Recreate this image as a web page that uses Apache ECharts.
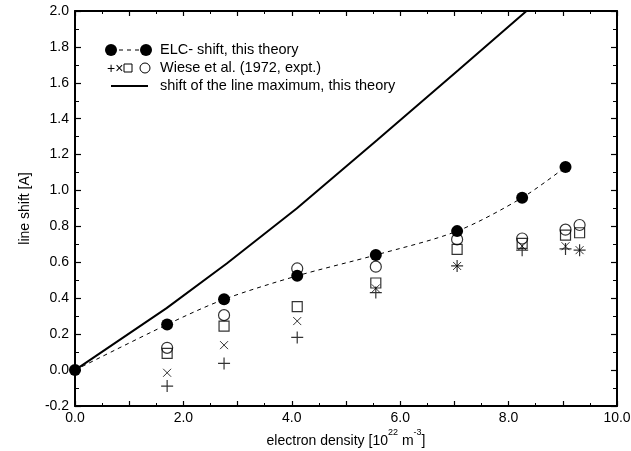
<!DOCTYPE html>
<html>
<head>
<meta charset="utf-8">
<script src="https://cdn.jsdelivr.net/npm/echarts@6/dist/echarts.min.js"></script>
<style>html,body{margin:0;padding:0;background:#fff}#c{width:631px;height:451px}</style>
</head>
<body>
<div id="c"></div>
<script>
// ELC shift, this theory
const elcX = [0, 1.7, 2.75, 4.1, 5.55, 7.05, 8.25, 9.05];
const elcY = [0, 0.254, 0.394, 0.525, 0.641, 0.774, 0.96, 1.131];
// shift of the line maximum, this theory
const maxX = [0, 1.69, 2.8, 4.09, 5.57, 7.07, 8.33, 9.05];
const maxY = [0, 0.345, 0.594, 0.90, 1.28, 1.67, 2.0, 2.2];
// Wiese et al. (1972, expt.)
const expX = [1.7, 2.75, 4.1, 5.55, 7.05, 8.25, 9.05, 9.31];
const circleY = [0.124, 0.306, 0.566, 0.576, 0.728, 0.733, 0.782, 0.808];
const squareY = [0.093, 0.245, 0.353, 0.485, 0.672, 0.706, 0.752, 0.765];
const crossY = [-0.015, 0.139, 0.273, 0.455, 0.58, 0.69, 0.69, 0.668];
const plusY = [-0.089, 0.037, 0.182, 0.432, 0.58, 0.668, 0.675, 0.668];
// axis ticks
const yTicks = ['-0.2','0.0','0.2','0.4','0.6','0.8','1.0','1.2','1.4','1.6','1.8','2.0'];
const xTicks = ['0.0','2.0','4.0','6.0','8.0','10.0'];

const zip = (xs, ys) => xs.map((x, i) => [x, ys[i]]);
const FONT = 'Liberation Sans';
const PLUS = 'path://M5,0L5,10M0,5L10,5';
const CROSS = 'path://M0,0L10,10M10,0L0,10';

const chart = echarts.init(document.getElementById('c'));
const baseAxis = {
  axisLine: {show: true, onZero: false, lineStyle: {color: '#000', width: 2}},
  splitLine: {show: false}
};
function scat(ys, symbol, size, bw) {
  return {
    type: 'scatter', data: zip(expX, ys), symbol: symbol, symbolSize: size,
    itemStyle: {color: 'rgba(0,0,0,0)', borderColor: '#000', borderWidth: bw},
    z: 3, silent: true
  };
}
function legendText(t, y) {
  return {type: 'text', style: {x: 160, y: y, text: t, verticalAlign: 'middle',
    font: '14.5px "' + FONT + '"', fill: '#000'}};
}
chart.setOption({
  animation: false,
  backgroundColor: '#fff',
  grid: {left: 75, right: 14, top: 11, bottom: 45, containLabel: false, outerBoundsMode: 'none'},
  xAxis: [
    Object.assign({}, baseAxis, {
      type: 'value', min: 0, max: 10, interval: 1, position: 'bottom',
      name: '{a|electron density [10}{s|22}{a| m}{s|-3}{a|]}',
      nameLocation: 'middle', nameGap: 22, nameMoveOverlap: false,
      nameTextStyle: {rich: {
        a: {fontFamily: FONT, fontSize: 14, color: '#000', lineHeight: 20, verticalAlign: 'bottom'},
        s: {fontFamily: FONT, fontSize: 9, color: '#000', lineHeight: 20, verticalAlign: 'top'}
      }},
      axisTick: {inside: true, length: 5, lineStyle: {color: '#000', width: 1.2}},
      minorTick: {show: true, splitNumber: 2, length: 3, lineStyle: {color: '#000', width: 1}},
      axisLabel: {
        color: '#000', fontFamily: FONT, fontSize: 14, margin: 5,
        formatter: v => { const i = xTicks.indexOf(v.toFixed(1)); return i >= 0 ? xTicks[i] : ''; }
      }
    }),
    Object.assign({}, baseAxis, {
      type: 'value', min: 0, max: 10, interval: 1, position: 'top',
      axisTick: {inside: true, length: 5, lineStyle: {color: '#000', width: 1.2}},
      minorTick: {show: true, splitNumber: 2, length: 3, lineStyle: {color: '#000', width: 1}},
      axisLabel: {show: false}
    })
  ],
  yAxis: [
    Object.assign({}, baseAxis, {
      type: 'value', min: -0.2, max: 2.0, interval: 0.2, position: 'left',
      name: 'line shift [A]', nameLocation: 'middle', nameGap: 43,
      nameTextStyle: {fontFamily: FONT, fontSize: 14, color: '#000'},
      axisTick: {inside: true, length: 6, lineStyle: {color: '#000', width: 1.2}},
      minorTick: {show: true, splitNumber: 2, length: 4, lineStyle: {color: '#000', width: 1}},
      axisLabel: {
        color: '#000', fontFamily: FONT, fontSize: 14, margin: 6,
        formatter: v => { const s = v.toFixed(1); return yTicks.indexOf(s) >= 0 ? s : ''; }
      }
    }),
    Object.assign({}, baseAxis, {
      type: 'value', min: -0.2, max: 2.0, interval: 0.2, position: 'right',
      axisTick: {inside: true, length: 6, lineStyle: {color: '#000', width: 1.2}},
      minorTick: {show: true, splitNumber: 2, length: 4, lineStyle: {color: '#000', width: 1}},
      axisLabel: {show: false}
    })
  ],
  series: [
    {type: 'line', data: zip(maxX, maxY), showSymbol: false, symbol: 'none',
     lineStyle: {color: '#000', width: 2}, z: 2, silent: true, clip: true},
    {type: 'line', data: zip(elcX, elcY), smooth: 0.3, symbol: 'circle', symbolSize: 12,
     showSymbol: true, itemStyle: {color: '#000'},
     lineStyle: {color: '#000', width: 1, type: [4, 4]}, z: 4, silent: true},
    scat(circleY, 'circle', 11, 1.2),
    scat(squareY, 'rect', 10, 1.2),
    scat(crossY, CROSS, 8, 1),
    scat(plusY, PLUS, 12, 1.2)
  ],
  graphic: [
    // legend row 1
    {type: 'circle', shape: {cx: 111, cy: 50, r: 6}, style: {fill: '#000'}},
    {type: 'line', shape: {x1: 119, y1: 50, x2: 140, y2: 50}, style: {stroke: '#000', lineWidth: 1, lineDash: [4, 4]}},
    {type: 'circle', shape: {cx: 146, cy: 50, r: 6}, style: {fill: '#000'}},
    legendText('ELC- shift, this theory', 50),
    // legend row 2
    {type: 'text', style: {x: 107, y: 69, text: '+×', verticalAlign: 'middle', font: '14px "' + FONT + '"', fill: '#000'}},
    {type: 'rect', shape: {x: 124, y: 64, width: 8, height: 8}, style: {fill: 'none', stroke: '#000', lineWidth: 1}},
    {type: 'circle', shape: {cx: 145, cy: 68, r: 5}, style: {fill: 'none', stroke: '#000', lineWidth: 1}},
    legendText('Wiese et al. (1972, expt.)', 68),
    // legend row 3
    {type: 'line', shape: {x1: 111, y1: 86, x2: 148, y2: 86}, style: {stroke: '#000', lineWidth: 2}},
    legendText('shift of the line maximum, this theory', 86)
  ]
});
</script>
</body>
</html>
